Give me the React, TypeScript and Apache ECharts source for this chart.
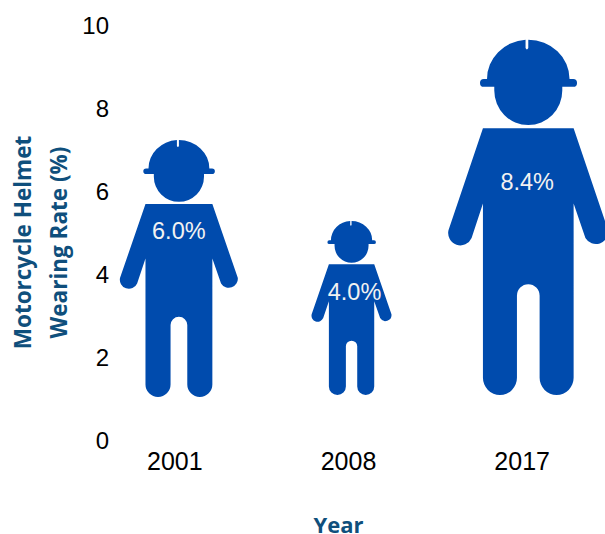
import React, { useEffect, useRef } from "react";
import * as echarts from "echarts";

const years = ["2001", "2008", "2017"];
const helmetRates = [6.0, 4.0, 8.4];
const yTicks = { min: 0, max: 10, interval: 2 };
const yTitle = "Motorcycle Helmet\nWearing Rate (%)";
const xTitle = "Year";

// Figure presentation, one entry per year
const figureWidths = [118, 80, 160];
const figureHeights = ["103.2%", "104.8%", "101.9%"];
const figureOffsets = [[4, -43], [3, -45], [6, -45]];
const labelOffsets = [[4, 74], [6, 54], [5, 125]];

const BLUE = "#004BAD";
const TITLE = "#0F4F7C";

const figurePath =
  "path://M140 145H147A91 85 0 0 1 232 60V78Q235 84 238 78V60A91 85 0 0 1 329 145H337A8.5 8.5 0 0 1 337 162H313V170A75 75 0 0 1 163 170V162H140A8.5 8.5 0 0 1 140 145Z" +
  "M138 252H338L414 473A27 27 0 0 1 364 490L338 415V793A37.5 37.5 0 0 1 263 793V615A25 25 0 0 0 213 615V793A37.5 37.5 0 0 1 138 793V415L113 490A27 27 0 0 1 62 473Z";

export default function App() {
  const ref = useRef<HTMLDivElement>(null);
  useEffect(() => {
    document.body.style.margin = "0";
    const chart = echarts.init(ref.current!, null, { renderer: "svg" });
    chart.setOption({
      animation: false,
      textStyle: { fontFamily: "'Liberation Sans', Arial, sans-serif" },
      grid: { left: 88, right: -4, top: 25, bottom: 94, outerBoundsMode: "none" },
      xAxis: {
        type: "category",
        data: years,
        name: xTitle,
        nameLocation: "middle",
        nameGap: 75,
        nameMoveOverlap: false,
        nameTextStyle: { color: TITLE, fontFamily: "'Open Sans', sans-serif", fontWeight: "bold", fontSize: 22, lineHeight: 18, padding: [0, 20, 0, 0] },
        axisLine: { show: false },
        axisTick: { show: false },
        axisLabel: { color: "#000", fontSize: 25, margin: 8 },
      },
      yAxis: {
        type: "value",
        ...yTicks,
        name: yTitle,
        nameLocation: "middle",
        nameRotate: 90,
        nameGap: 12,
        nameMoveOverlap: false,
        nameTextStyle: { color: TITLE, fontFamily: "'Open Sans', sans-serif", fontWeight: "bold", fontSize: 22.5, lineHeight: 36, padding: [0, 20, 0, 0] },
        axisLine: { show: false },
        axisTick: { show: false },
        splitLine: { show: false },
        axisLabel: { color: "#000", fontSize: 24, margin: -21 },
      },
      series: [
        {
          type: "pictorialBar",
          symbol: figurePath,
          symbolPosition: "start",
          z: 2,
          itemStyle: { color: BLUE },
          label: {
            show: true,
            position: "insideTop",
            color: "#F2F2F2",
            fontSize: 23.5,
            formatter: (p: any) => `${p.value.toFixed(1)}%`,
          },
          data: helmetRates.map((value, i) => ({
            value,
            symbolSize: [figureWidths[i], figureHeights[i]],
            symbolOffset: figureOffsets[i],
            label: { offset: labelOffsets[i] },
          })),
        },
      ],
    });
    return () => chart.dispose();
  }, []);
  return <div ref={ref} style={{ width: 605, height: 534 }} />;
}
